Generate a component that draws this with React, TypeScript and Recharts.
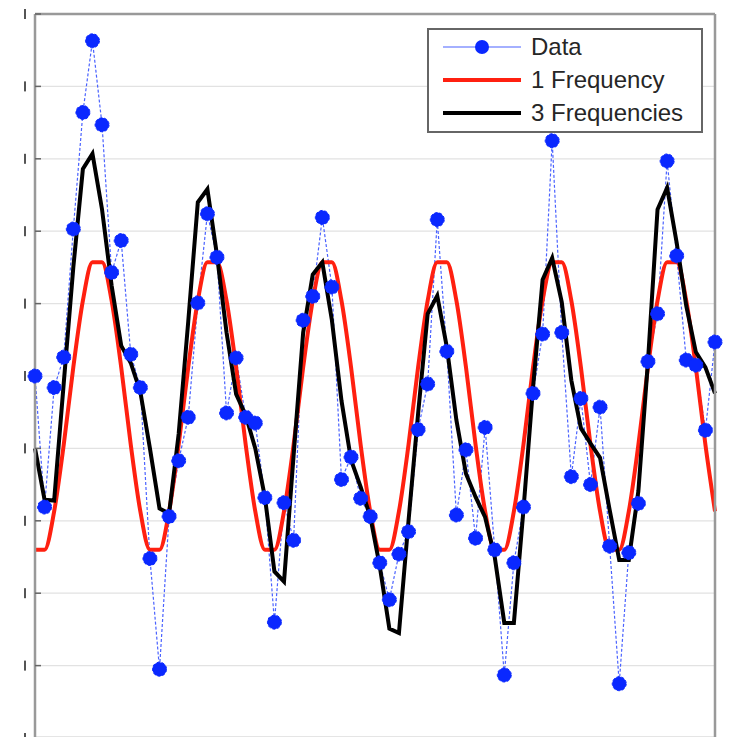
import { LineChart, Line, XAxis, YAxis, CartesianGrid, Legend } from 'recharts';

// monthly samples, 6 cycles
const dataValues = [
  5.0, 3.19, 4.84, 5.26, 7.03, 8.64, 9.63, 8.47, 6.43, 6.87, 5.3, 4.84,
  2.48, 0.95, 3.06, 3.83, 4.43, 6.01, 7.24, 6.64, 4.49, 5.25, 4.43, 4.35,
  3.32, 1.6, 3.25, 2.73, 5.77, 6.1, 7.19, 6.23, 3.57, 3.88, 3.31, 3.06,
  2.42, 1.91, 2.54, 2.85, 4.26, 4.89, 7.16, 5.34, 3.08, 3.98, 2.76, 4.29,
  2.6, 0.87, 2.42, 3.19, 4.76, 5.58, 8.25, 5.6, 3.61, 4.69, 3.5, 4.57,
  2.65, 0.75, 2.56, 3.24, 5.2, 5.86, 7.97, 6.66, 5.22, 5.15, 4.25, 5.47,
];

const oneFrequency = [
  2.6, 2.6, 3.13, 4.05, 5.12, 6.04, 6.57, 6.57, 6.04, 5.12, 4.05, 3.13,
  2.6, 2.6, 3.13, 4.05, 5.12, 6.04, 6.57, 6.57, 6.04, 5.12, 4.05, 3.13,
  2.6, 2.6, 3.13, 4.05, 5.12, 6.04, 6.57, 6.57, 6.04, 5.12, 4.05, 3.13,
  2.6, 2.6, 3.13, 4.05, 5.12, 6.04, 6.57, 6.57, 6.04, 5.12, 4.05, 3.13,
  2.6, 2.6, 3.13, 4.05, 5.12, 6.04, 6.57, 6.57, 6.04, 5.12, 4.05, 3.13,
  2.6, 2.6, 3.13, 4.05, 5.12, 6.04, 6.57, 6.57, 6.04, 5.12, 4.05, 3.13,
];

const threeFrequencies = [
  4.0, 3.29, 3.28, 4.9, 6.5, 7.86, 8.07, 7.3, 6.25, 5.42, 5.18, 4.78,
  4.0, 3.17, 3.1, 4.2, 5.75, 7.4, 7.58, 6.67, 5.6, 4.75, 4.46, 4.0,
  3.33, 2.3, 2.16, 3.9, 5.6, 6.4, 6.57, 5.77, 4.66, 3.84, 3.47, 3.06,
  2.37, 1.51, 1.45, 3.0, 4.48, 5.86, 6.11, 5.4, 4.39, 3.65, 3.33, 3.05,
  2.5, 1.59, 1.59, 3.15, 4.84, 6.33, 6.63, 6.02, 4.94, 4.28, 4.07, 3.87,
  3.15, 2.46, 2.46, 3.41, 5.2, 7.3, 7.6, 6.84, 5.97, 5.33, 5.12, 4.76,
];

const xTicks = [0, 11.83, 23.67, 35.5, 47.33, 59.17, 71];
const yTicks = [0, 1, 2, 3, 4, 5, 6, 7, 8, 9, 10];

const rows = dataValues.map((v, i) => ({
  t: i,
  data: v,
  one: oneFrequency[i],
  three: threeFrequencies[i],
}));

const BORDER = '#999';
const BLUE = '#0a28ff';

// clipped-off tick labels leave only a sliver visible at the left edge
const CutLabel = (props: any) => (
  <rect x={24} y={props.y - 5} width={2} height={10} fill="#555" />
);

const LegendBox = () => (
  <div style={{ width: 276, height: 105, boxSizing: 'border-box', border: '2px solid #666', background: '#fff' }}>
    <svg width={272} height={101} style={{ display: 'block' }}>
      <line x1={14} x2={92} y1={17} y2={17} stroke="#4a62ff" strokeWidth={1.2} />
      <circle cx={53} cy={17} r={7} fill={BLUE} />
      <line x1={14} x2={92} y1={50} y2={50} stroke="#ff2010" strokeWidth={4} />
      <line x1={14} x2={92} y1={83} y2={83} stroke="#000" strokeWidth={4} />
      <text x={102} y={25} fontSize={24} fill="#262626">Data</text>
      <text x={102} y={58} fontSize={24} fill="#262626">1 Frequency</text>
      <text x={102} y={91} fontSize={24} fill="#262626">3 Frequencies</text>
    </svg>
  </div>
);

export default function App() {
  return (
    <div style={{ position: 'absolute', left: 0, top: 0, width: 733, height: 737, overflow: 'hidden', background: '#fff', fontFamily: '"Liberation Sans", Arial, sans-serif' }}>
      <LineChart width={733} height={760} data={rows} margin={{ top: 14, right: 18, bottom: 22, left: 35 }}>
        <CartesianGrid xAxisId="b" yAxisId="l" stroke="#e2e2e2" strokeWidth={1.2} horizontalValues={yTicks} verticalValues={xTicks} />
        <XAxis xAxisId="b" dataKey="t" type="number" domain={[0, 71]} ticks={xTicks} orientation="bottom" height={20}
          mirror tick={false} tickSize={5} stroke={BORDER} strokeWidth={2.5} tickLine={{ stroke: '#666', strokeWidth: 1.5 }} />
        <XAxis xAxisId="top" dataKey="t" type="number" domain={[0, 71]} ticks={xTicks} orientation="top" height={14}
          mirror tick={false} tickSize={5} stroke={BORDER} strokeWidth={2.5} tickLine={{ stroke: '#666', strokeWidth: 1.5 }} />
        <YAxis yAxisId="l" type="number" domain={[0, 10]} ticks={yTicks} width={35}
          mirror tick={<CutLabel />} tickSize={6} stroke={BORDER} strokeWidth={2.5} tickLine={{ stroke: '#666', strokeWidth: 1.5 }} />
        <YAxis yAxisId="r" type="number" domain={[0, 10]} ticks={yTicks} width={18} orientation="right"
          mirror tick={false} tickSize={6} stroke={BORDER} strokeWidth={2.5} tickLine={{ stroke: '#666', strokeWidth: 1.5 }} />
        <Legend content={<LegendBox />} layout="horizontal" verticalAlign="middle" align="center"
          wrapperStyle={{ position: 'absolute', left: 427, top: 28, width: 276, height: 105 }} />
        <Line xAxisId="b" yAxisId="l" type="linear" dataKey="data" name="Data" stroke="#4a62ff" strokeWidth={1.2}
          strokeDasharray="3 2" dot={{ r: 7, fill: BLUE, stroke: BLUE, strokeWidth: 1 }} isAnimationActive={false} />
        <Line xAxisId="b" yAxisId="l" type="monotone" dataKey="one" name="1 Frequency" stroke="#ff2010" strokeWidth={4}
          dot={false} isAnimationActive={false} />
        <Line xAxisId="b" yAxisId="l" type="linear" dataKey="three" name="3 Frequencies" stroke="#000" strokeWidth={4}
          dot={false} isAnimationActive={false} />
      </LineChart>
    </div>
  );
}
